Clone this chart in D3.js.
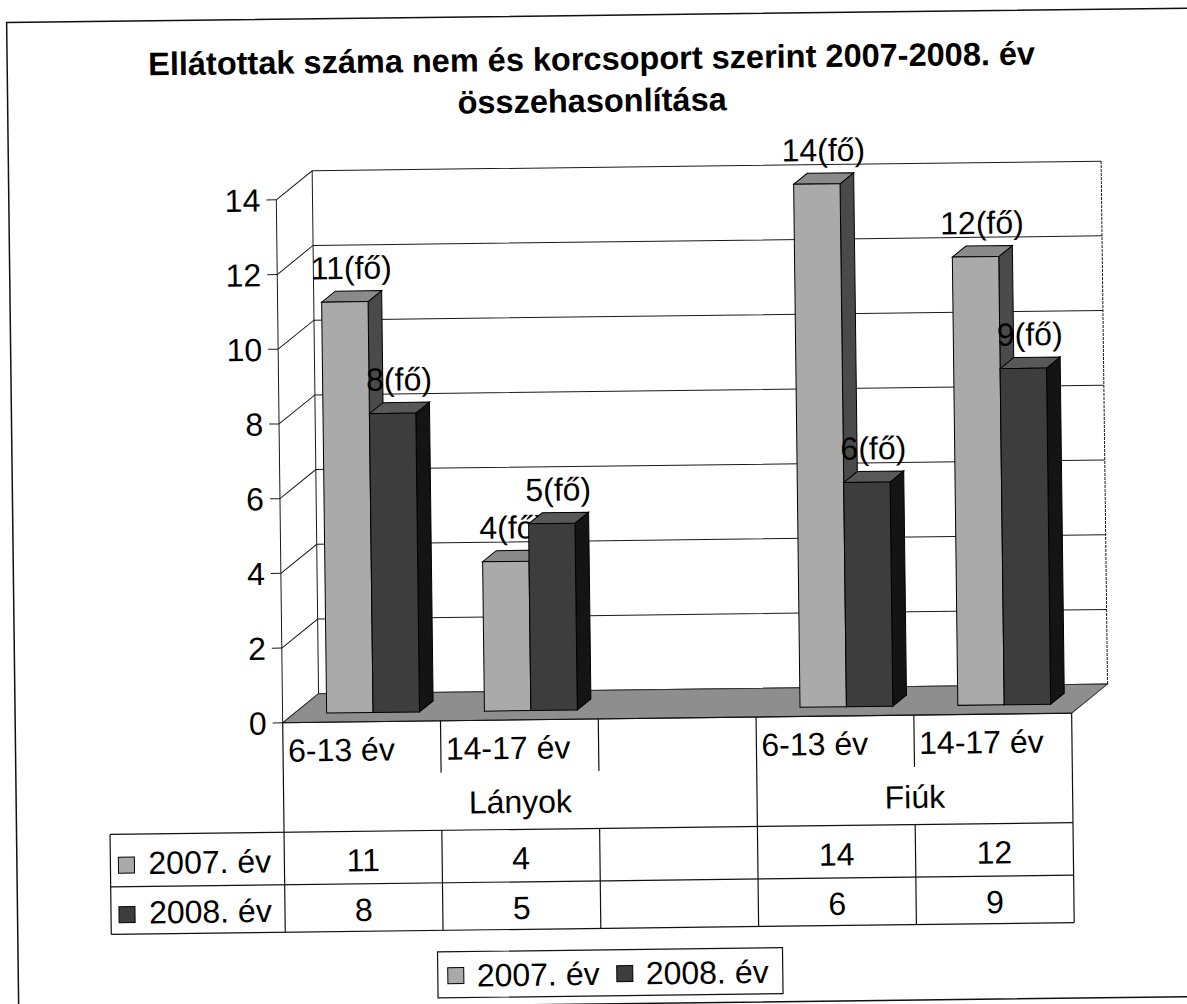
<!DOCTYPE html>
<html>
<head>
<meta charset="utf-8">
<script src="https://cdn.jsdelivr.net/npm/d3@7"></script>
<style>
    body { margin: 0; background: #fff; }
    svg { display: block; font-family: "Liberation Sans", Arial, sans-serif; }
    .grid { stroke: #1a1a1a; stroke-width: 1; fill: none; }
    .cell { stroke: #111; stroke-width: 1.2; fill: none; }
    .lbl { font-size: 32px; fill: #000; }
</style>
</head>
<body>
<div id="chart"></div>
<script>
    // chart data
    var categories = ["6-13 év", "14-17 év", "", "6-13 év", "14-17 év"];
    var groups = ["Lányok", "Fiúk"];
    var groupSpans = [3, 2];
    var seriesNames = ["2007. év", "2008. év"];
    var values2007 = [11, 4, null, 14, 12];
    var values2008 = [8, 5, null, 6, 9];
    var yTicks = [0, 2, 4, 6, 8, 10, 12, 14];
    var titleLines = ["Ellátottak száma nem és korcsoport szerint 2007-2008. év", "összehasonlítása"];
    var unitSuffix = "(fő)";

    var series = [values2007, values2008];

    var width = 1187, height = 1004;

    // 3d depth of the plot (back wall offset)
    var depth = { dx: 36.2, dy: -28.6 };
    var z0 = 0.32, z1 = 0.70;   // bar position in depth

    var faces = [
        { front: "#aaaaaa", top: "#8a8a8a", side: "#4a4a4a" },
        { front: "#3d3d3d", top: "#585858", side: "#141414" }
    ];

    var svg = d3.select("#chart").append("svg")
        .attr("width", width)
        .attr("height", height);

    // the scan is tilted a bit
    var g = svg.append("g").attr("transform", "rotate(-0.7,590,500)");

    // outer frame
    g.append("rect")
        .attr("x", 12.5).attr("y", 15.5)
        .attr("width", 1200).attr("height", 988.5)
        .attr("fill", "none").attr("stroke", "#111").attr("stroke-width", 1.5);

    // title
    g.append("text")
        .attr("x", 597).attr("y", 70)
        .attr("text-anchor", "middle")
        .attr("font-size", "32.5px").attr("font-weight", "bold")
        .selectAll("tspan")
        .data(titleLines)
        .enter().append("tspan")
        .attr("x", 597)
        .attr("dy", function(d, i) { return i === 0 ? 0 : 42; })
        .text(function(d) { return d; });

    // scales
    var x = d3.scaleBand()
        .domain(d3.range(categories.length))
        .range([280, 1069]);

    var xs = d3.scaleBand()
        .domain(d3.range(series.length))
        .range([0, x.bandwidth()])
        .paddingOuter(0.7);

    var y = d3.scaleLinear()
        .domain([0, 14])
        .range([719, 196]);

    function P(px, py, z) {
        return [px + z * depth.dx, py + z * depth.dy];
    }
    function poly(pts) {
        return "M" + pts.map(function(p) { return p[0] + "," + p[1]; }).join("L") + "Z";
    }

    var x0 = x.range()[0], x1 = x.range()[1];

    // back wall gridlines and left wall diagonals
    yTicks.forEach(function(t) {
        var a = P(x0, y(t), 0), b = P(x0, y(t), 1), c = P(x1, y(t), 1);
        g.append("path").attr("class", "grid")
            .attr("d", "M" + a + "L" + b + "L" + c);
    });
    // back wall edges
    g.append("path").attr("class", "grid")
        .attr("d", "M" + P(x0, y(0), 1) + "L" + P(x0, y(14), 1));
    g.append("path").attr("class", "grid").attr("stroke-dasharray", "3,1")
        .attr("d", "M" + P(x1, y(0), 1) + "L" + P(x1, y(14), 1));

    // floor
    g.append("path")
        .attr("d", poly([P(x0, y(0), 0), P(x1, y(0), 0), P(x1, y(0), 1), P(x0, y(0), 1)]))
        .attr("fill", "#8e8e8e").attr("stroke", "#333").attr("stroke-width", 1);

    // value axis
    g.append("line").attr("class", "grid")
        .attr("x1", x0).attr("x2", x0).attr("y1", y(0)).attr("y2", y(14));
    var ticks = g.append("g").selectAll("g")
        .data(yTicks).enter().append("g");
    ticks.append("line").attr("class", "grid")
        .attr("x1", x0 - 10).attr("x2", x0)
        .attr("y1", function(d) { return y(d); })
        .attr("y2", function(d) { return y(d); });
    ticks.append("text").attr("class", "lbl")
        .attr("x", x0 - 16)
        .attr("y", function(d) { return y(d); })
        .attr("dy", "0.36em")
        .attr("text-anchor", "end")
        .text(function(d) { return d; });

    // bars, category by category so later bars cover earlier labels
    categories.forEach(function(cat, ci) {
        series.forEach(function(vals, si) {
            var v = vals[ci];
            if (v == null) return;
            var bx = x(ci) + xs(si) + z0 * depth.dx;
            var bw = xs.bandwidth();
            var base = y(0) + z0 * depth.dy;
            var top = base - (y(0) - y(v));
            var dz = z1 - z0;
            var f = faces[si];
            var bar = g.append("g");
            // side
            bar.append("path")
                .attr("d", poly([[bx + bw, top], P(bx + bw, top, dz), P(bx + bw, base, dz), [bx + bw, base]]))
                .attr("fill", f.side).attr("stroke", "#000").attr("stroke-width", 1);
            // top
            bar.append("path")
                .attr("d", poly([[bx, top], [bx + bw, top], P(bx + bw, top, dz), P(bx, top, dz)]))
                .attr("fill", f.top).attr("stroke", "#000").attr("stroke-width", 1);
            // front
            bar.append("rect")
                .attr("x", bx).attr("y", top)
                .attr("width", bw).attr("height", base - top)
                .attr("fill", f.front).attr("stroke", "#000").attr("stroke-width", 1);
            // data label
            g.append("text").attr("class", "lbl")
                .attr("x", bx + bw / 2 + dz * depth.dx / 2)
                .attr("y", top + dz * depth.dy - 12)
                .attr("text-anchor", "middle")
                .text(v + unitSuffix);
        });
    });

    // data table under the plot
    var rowCat = [y(0), 771];
    var rowGroup = [y(0), 828.5];
    var rowData = [[828.5, 881], [881, 928.5]];
    var headX = 106;

    var tbl = g.append("g");
    // horizontal lines
    tbl.append("line").attr("class", "cell")
        .attr("x1", x0).attr("x2", x1).attr("y1", y(0)).attr("y2", y(0));
    tbl.append("line").attr("class", "cell")
        .attr("x1", headX).attr("x2", x1).attr("y1", rowGroup[1]).attr("y2", rowGroup[1]);
    rowData.forEach(function(r) {
        tbl.append("line").attr("class", "cell")
            .attr("x1", headX).attr("x2", x1).attr("y1", r[1]).attr("y2", r[1]);
    });
    tbl.append("line").attr("class", "cell")
        .attr("x1", headX).attr("x2", headX).attr("y1", rowGroup[1]).attr("y2", rowData[1][1]);

    // vertical lines: group borders run full height, inner ones stop at the category row
    var groupEdges = [0];
    groupSpans.forEach(function(s, i) { groupEdges.push(groupEdges[i] + s); });
    d3.range(categories.length + 1).forEach(function(i) {
        var xx = i < categories.length ? x(i) : x1;
        var full = groupEdges.indexOf(i) >= 0;
        tbl.append("line").attr("class", "cell")
            .attr("x1", xx).attr("x2", xx)
            .attr("y1", y(0)).attr("y2", full ? rowGroup[1] : rowCat[1]);
        tbl.append("line").attr("class", "cell")
            .attr("x1", xx).attr("x2", xx)
            .attr("y1", rowData[0][0]).attr("y2", rowData[1][1]);
    });

    // category labels
    tbl.selectAll(".cat").data(categories).enter().append("text")
        .attr("class", "lbl")
        .attr("x", function(d, i) { return x(i) + 5; })
        .attr("y", y(0) + 39)
        .text(function(d) { return d; });

    // group labels
    tbl.selectAll(".grp").data(groups).enter().append("text")
        .attr("class", "lbl")
        .attr("text-anchor", "middle")
        .attr("x", function(d, i) {
            var a = x(groupEdges[i]);
            var b = groupEdges[i + 1] < categories.length ? x(groupEdges[i + 1]) : x1;
            return (a + b) / 2;
        })
        .attr("y", 812)
        .text(function(d) { return d; });

    // series rows
    series.forEach(function(vals, si) {
        var r = rowData[si];
        var base = r[0] + 40 - si * 3;
        tbl.append("rect")
            .attr("x", headX + 8).attr("y", base - 17)
            .attr("width", 16).attr("height", 16)
            .attr("fill", faces[si].front).attr("stroke", "#000");
        tbl.append("text").attr("class", "lbl")
            .attr("x", headX + 38).attr("y", base)
            .text(seriesNames[si]);
        tbl.selectAll(null).data(vals).enter().append("text")
            .attr("class", "lbl")
            .attr("text-anchor", "middle")
            .attr("x", function(d, i) { return x(i) + x.bandwidth() / 2; })
            .attr("y", base)
            .text(function(d) { return d == null ? "" : d; });
    });

    // legend
    var lg = g.append("g").attr("transform", "translate(432,950)");
    lg.append("rect")
        .attr("width", 345).attr("height", 46)
        .attr("fill", "none").attr("stroke", "#111").attr("stroke-width", 1.2);
    var itemX = [10, 179];
    seriesNames.forEach(function(s, si) {
        lg.append("rect")
            .attr("x", itemX[si]).attr("y", 16)
            .attr("width", 16).attr("height", 16)
            .attr("fill", faces[si].front).attr("stroke", "#000");
        lg.append("text").attr("class", "lbl")
            .attr("x", itemX[si] + 29).attr("y", 35)
            .text(s);
    });
</script>
</body>
</html>
